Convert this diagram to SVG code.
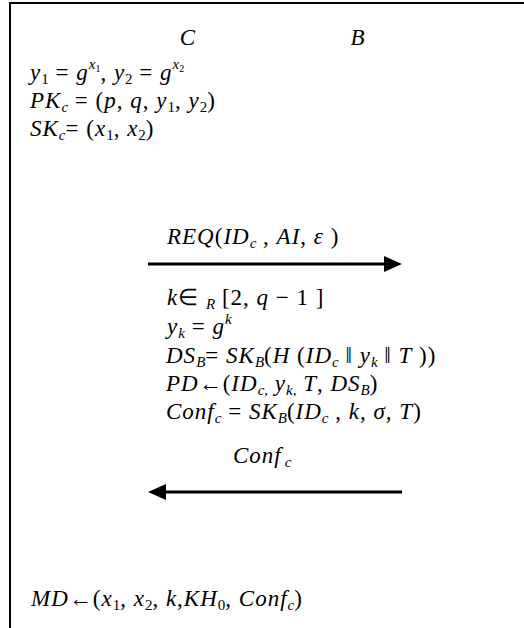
<svg xmlns="http://www.w3.org/2000/svg" width="524" height="628" viewBox="0 0 524 628">
<defs>
<style>
.t{font-family:"Liberation Serif","Times New Roman",serif;font-size:23px;letter-spacing:1px;fill:#000}
.i{font-style:italic}
.s{font-size:15px;letter-spacing:0}
.ss{font-size:10px;letter-spacing:0}
.frame{stroke:#000;stroke-width:2;fill:none}
.arr{stroke:#000;stroke-width:3;fill:none;marker-end:url(#head)}
</style>
<marker id="head" markerUnits="userSpaceOnUse" markerWidth="18" markerHeight="16" refX="0" refY="8" orient="auto">
<path d="M0,0 L18,8 L0,16 z" fill="#000"/>
</marker>
</defs>
<rect width="524" height="628" fill="#fff"/>
<path class="frame" d="M10,628 V3 H524"/>
<g id="party-C"><text class="t i" x="188" y="45" text-anchor="middle">C</text></g>
<g id="party-B"><text class="t i" x="358" y="45" text-anchor="middle">B</text></g>
<g id="client-setup">
<text class="t" x="30" y="80"><tspan class="i">y</tspan><tspan class="s" dy="4">1</tspan><tspan dy="-4"> = </tspan><tspan class="i">g</tspan><tspan class="s i" dy="-11">x</tspan><tspan class="ss" dy="3">1</tspan><tspan dy="8">, </tspan><tspan class="i">y</tspan><tspan class="s" dy="4">2</tspan><tspan dy="-4"> = </tspan><tspan class="i">g</tspan><tspan class="s i" dy="-11">x</tspan><tspan class="ss" dy="3">2</tspan></text>
<text class="t" x="30" y="108"><tspan class="i">PK</tspan><tspan class="s i" dy="4">c</tspan><tspan dy="-4"> = (</tspan><tspan class="i">p</tspan><tspan>,  </tspan><tspan class="i">q</tspan><tspan>,  </tspan><tspan class="i">y</tspan><tspan class="s" dy="4">1</tspan><tspan dy="-4">,  </tspan><tspan class="i">y</tspan><tspan class="s" dy="4">2</tspan><tspan dy="-4">)</tspan></text>
<text class="t" x="30" y="136"><tspan class="i">SK</tspan><tspan class="s i" dy="4">c</tspan><tspan dy="-4">= (</tspan><tspan class="i">x</tspan><tspan class="s" dy="4">1</tspan><tspan dy="-4">, </tspan><tspan class="i">x</tspan><tspan class="s" dy="4">2</tspan><tspan dy="-4">)</tspan></text>
</g>
<g id="bank-compute">
<text class="t" x="167" y="305"><tspan class="i">k</tspan><tspan>∈ </tspan><tspan class="s i" dy="4">R</tspan><tspan dy="-4"> [2,  </tspan><tspan class="i">q</tspan><tspan> − 1 ]</tspan></text>
<text class="t" x="167" y="334"><tspan class="i">y</tspan><tspan class="s i" dy="4">k</tspan><tspan dy="-4"> = </tspan><tspan class="i">g</tspan><tspan class="s i" dy="-10">k</tspan></text>
<text class="t" x="166" y="363"><tspan class="i">DS</tspan><tspan class="s i" dy="4">B</tspan><tspan dy="-4">= </tspan><tspan class="i">SK</tspan><tspan class="s i" dy="4">B</tspan><tspan dy="-4">(</tspan><tspan class="i">H</tspan><tspan> (</tspan><tspan class="i">ID</tspan><tspan class="s i" dy="4">c</tspan><tspan dy="-4"> ‖ </tspan><tspan class="i">y</tspan><tspan class="s i" dy="4">k</tspan><tspan dy="-4"> ‖ </tspan><tspan class="i">T</tspan><tspan> ))</tspan></text>
<text class="t" x="166" y="391"><tspan class="i">PD</tspan><tspan>←(</tspan><tspan class="i">ID</tspan><tspan class="s i" dy="4">c,</tspan><tspan dy="-4"> </tspan><tspan class="i">y</tspan><tspan class="s i" dy="4">k,</tspan><tspan dy="-4"> </tspan><tspan class="i">T</tspan><tspan>, </tspan><tspan class="i">DS</tspan><tspan class="s i" dy="4">B</tspan><tspan dy="-4">)</tspan></text>
<text class="t" x="166" y="419"><tspan class="i">Conf</tspan><tspan class="s i" dy="4">c</tspan><tspan dy="-4"> = </tspan><tspan class="i">SK</tspan><tspan class="s i" dy="4">B</tspan><tspan dy="-4">(</tspan><tspan class="i">ID</tspan><tspan class="s i" dy="4">c</tspan><tspan dy="-4"> ,  </tspan><tspan class="i">k</tspan><tspan>,  </tspan><tspan class="i">σ</tspan><tspan>, </tspan><tspan class="i">T</tspan><tspan>)</tspan></text>
</g>
<g id="client-final">
<text class="t" x="31" y="606"><tspan class="i">MD</tspan><tspan>←(</tspan><tspan class="i">x</tspan><tspan class="s" dy="4">1</tspan><tspan dy="-4">, </tspan><tspan class="i">x</tspan><tspan class="s" dy="4">2</tspan><tspan dy="-4">, </tspan><tspan class="i">k</tspan><tspan>,</tspan><tspan class="i">KH</tspan><tspan class="s" dy="4">0</tspan><tspan dy="-4">, </tspan><tspan class="i">Conf</tspan><tspan class="s i" dy="4">c</tspan><tspan dy="-4">)</tspan></text>
</g>
<g id="connectors">
<g id="msg-req">
<line class="arr" x1="148" y1="264" x2="384" y2="264"/>
<text class="t" x="167" y="244"><tspan class="i">REQ</tspan><tspan>(</tspan><tspan class="i">ID</tspan><tspan class="s i" dy="4">c</tspan><tspan dy="-4"> ,  </tspan><tspan class="i">AI</tspan><tspan>, </tspan><tspan class="i">ε</tspan><tspan> )</tspan></text>
</g>
<g id="msg-conf">
<line class="arr" x1="402" y1="492" x2="166" y2="492"/>
<text class="t" x="233" y="463"><tspan class="i">Conf</tspan><tspan class="s i" dx="3" dy="4">c</tspan></text>
</g>
</g>
</svg>
